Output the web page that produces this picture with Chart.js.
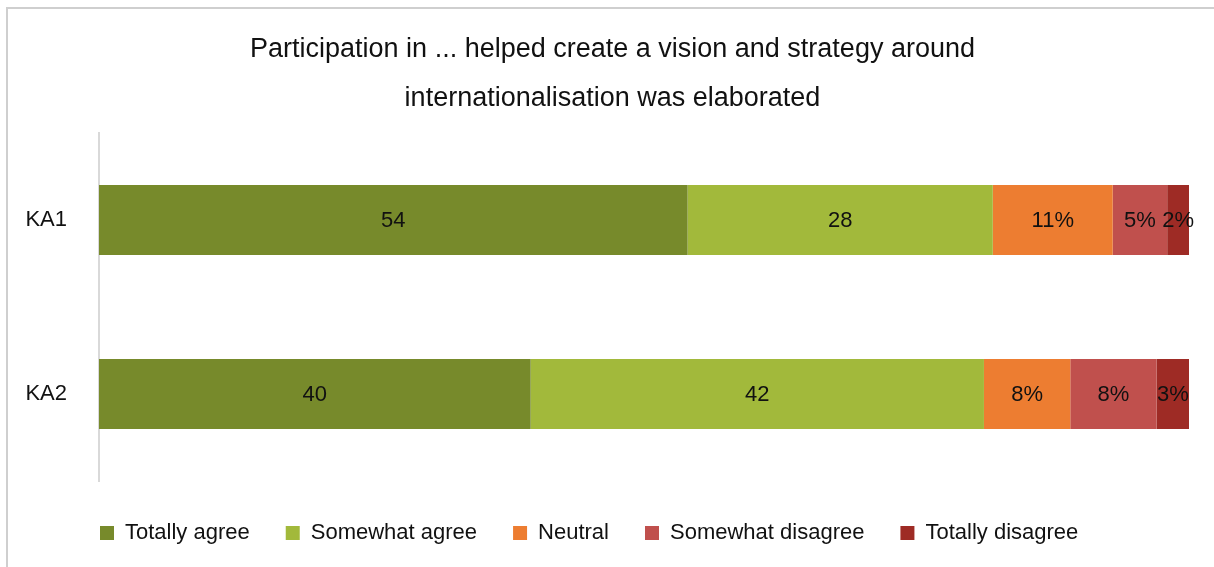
<!DOCTYPE html>
<html>
<head>
<meta charset="utf-8">
<title>Participation in ... helped create a vision and strategy around internationalisation</title>
<script src="https://cdn.jsdelivr.net/npm/chart.js@4.4.1/dist/chart.umd.min.js"></script>
<style>
  html, body { margin: 0; padding: 0; background: #ffffff; }
  body { width: 1214px; height: 567px; position: relative; overflow: hidden; }
  #frame {
    position: absolute; left: 6px; top: 7px; width: 1400px; height: 700px;
    border-left: 2px solid #cfcfcf; border-top: 2px solid #cfcfcf;
  }
  #wrap { position: absolute; left: 0; top: 0; width: 1214px; height: 567px; }
</style>
</head>
<body>
<div id="frame"></div>
<div id="wrap"><canvas id="chart"></canvas></div>
<script>
// Survey groups and answer shares (percent of respondents)
const categories = ['KA1', 'KA2'];
const seriesNames = ['Totally agree', 'Somewhat agree', 'Neutral', 'Somewhat disagree', 'Totally disagree'];
const totallyAgree = [54, 40];
const somewhatAgree = [28, 42];
const neutral = [11, 8];
const somewhatDisagree = [5, 8];
const totallyDisagree = [2, 3];
const seriesColors = ['#778a2b', '#a2b93b', '#ed7d31', '#c0504d', '#9e2b25'];
// the two agree series are labelled as plain numbers, the rest with a % sign
const percentSuffix = [false, false, true, true, true];

const allSeries = [totallyAgree, somewhatAgree, neutral, somewhatDisagree, totallyDisagree];
const rowTotals = categories.map((_, i) => allSeries.reduce((s, arr) => s + arr[i], 0));

Chart.defaults.font.family = "'Liberation Sans', Arial, sans-serif";
Chart.defaults.color = '#111111';

const LEGEND_GAP = 36;

// writes each value in the middle of its bar segment
const segmentLabels = {
  id: 'segmentLabels',
  afterDatasetsDraw(chart) {
    const ctx = chart.ctx;
    ctx.save();
    ctx.font = "22px 'Liberation Sans', Arial, sans-serif";
    ctx.fillStyle = '#111111';
    ctx.textAlign = 'center';
    ctx.textBaseline = 'middle';
    chart.data.datasets.forEach((ds, di) => {
      const meta = chart.getDatasetMeta(di);
      meta.data.forEach((bar, i) => {
        const raw = ds.rawValues[i];
        const p = bar.getCenterPoint();
        ctx.fillText(raw + (percentSuffix[di] ? '%' : ''), p.x, p.y + 1);
      });
    });
    ctx.restore();
  }
};

// centres the title over the plot plus its category labels,
// and starts the legend row flush with the plot's left edge
const boxPlacement = {
  id: 'boxPlacement',
  afterLayout(chart) {
    const area = chart.chartArea;
    if (chart.titleBlock) chart.titleBlock.left = area.left - 63;
    if (chart.legend) chart.legend.left = area.left + 1 - LEGEND_GAP;
  }
};

const datasets = seriesNames.map((name, k) => ({
  label: name,
  rawValues: allSeries[k],
  data: allSeries[k].map((v, i) => v / rowTotals[i] * 100),
  backgroundColor: seriesColors[k],
  borderWidth: 0,
  barPercentage: 0.403,
  categoryPercentage: 1.0
}));

new Chart(document.getElementById('chart'), {
  type: 'bar',
  data: { labels: categories, datasets },
  plugins: [segmentLabels, boxPlacement],
  options: {
    indexAxis: 'y',
    responsive: true,
    maintainAspectRatio: false,
    animation: false,
    devicePixelRatio: 1,
    layout: { padding: { left: 10, right: 25, top: 0, bottom: 13 } },
    scales: {
      x: {
        stacked: true, min: 0, max: 100, display: true,
        grid: { display: false },
        border: { display: false },
        ticks: { display: false },
        afterFit(scale) { scale.height = 5; }
      },
      y: {
        stacked: true,
        grid: { display: false },
        border: { display: true, color: '#d9d9d9', width: 2 },
        ticks: { padding: 24, font: { size: 22 }, color: '#111111' },
        afterFit(scale) { scale.width = 89; }
      }
    },
    plugins: {
      title: {
        display: true,
        text: ['Participation in ... helped create a vision and strategy around',
               'internationalisation was elaborated'],
        font: { size: 27, weight: 'normal', lineHeight: 1.815 },
        color: '#111111',
        padding: { top: 25, bottom: 10 }
      },
      legend: {
        display: true,
        position: 'bottom',
        align: 'start',
        labels: {
          boxWidth: 14,
          boxHeight: 14,
          padding: LEGEND_GAP,
          font: { size: 22 },
          color: '#111111'
        }
      },
      tooltip: { enabled: false }
    }
  }
});
</script>
</body>
</html>
